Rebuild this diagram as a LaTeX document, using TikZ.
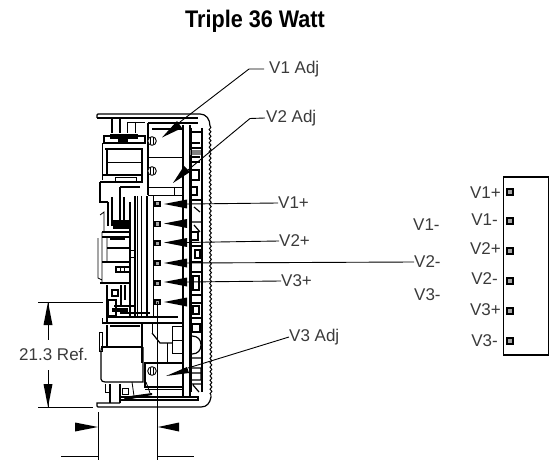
\documentclass[tikz,border=0pt]{standalone}
\usepackage{graphicx}
\usepackage{fontspec}
\setmainfont{Liberation Sans}
\usetikzlibrary{decorations.pathmorphing}
\definecolor{ink}{HTML}{3A3A3A}
\tikzset{
  thin line/.style={line width=0.8pt,black},
  med line/.style={line width=1.2pt,black},
  heavy line/.style={line width=2pt,black},
  leader/.style={line width=0.9pt,black},
  lab/.style={font=\fontsize{17}{18}\selectfont,text=ink,inner sep=0pt,anchor=west},
  conlab/.style={font=\fontsize{17}{18}\selectfont,text=ink,inner sep=0pt,anchor=east},
  term/.style={draw=black,line width=1.6pt,fill=gray!70,minimum size=4.6pt,inner sep=0pt},
  bigterm/.style={draw=black,line width=2.4pt,fill=gray!70,minimum size=6.4pt,inner sep=0pt},
  wedge/.style={fill=black,draw=none},
  screw/.style={draw=black,line width=0.9pt,fill=white}
}
\begin{document}
\begin{tikzpicture}[x=1pt,y=-1pt]
\useasboundingbox (0,0) rectangle (556,462);
\node[inner sep=0pt,font=\fontsize{24}{25}\bfseries\selectfont] (title) at (255,21) {\scalebox{.90}[1]{Triple 36 Watt}};

% housing
\draw[med line] (97,118) -- (97,115) -- (98,114) -- (200,114) .. controls (206,114) and (210,119) .. (210,126);
\draw[med line] (97,118) -- (198,118);
\draw[line width=1pt,decorate,decoration={snake,segment length=4.4pt,amplitude=0.9pt}] (210,126) -- (211,397);
\draw[med line] (211,397) .. controls (210,403) and (207,407) .. (201,407) -- (98,407) -- (97,406) -- (97,403) -- (120,403);
\draw[med line] (120,397) -- (198,397) -- (198,400) -- (120,400);

% central bar
\draw[med line] (183,125) -- (183,397) (190,125) -- (190,397);
\draw[med line] (148,123) -- (198,123);
\draw[heavy line] (152,129.5) -- (182,129.5);
% top adjust box
\draw[med line] (148,123) -- (148,195) ;
\draw[thin line] (148,157) -- (183,157) (148,187) -- (183,187) (148,195) -- (183,195);
\draw[thin line] (174,187) -- (174,195);
% top-left
\draw[med line] (112,133) -- (112,119) (120,119) -- (120,133) ;
\draw[thin line] (127,122) -- (127,133) (135,122) -- (135,133) (127,122) -- (145,122);
\draw[heavy line] (104,136) rectangle (145,143);
\fill[black] (110,134) rectangle (138,139);
\fill[black] (118,139) rectangle (128,143);
\draw[med line] (105,149) -- (143,149);
\draw[heavy line] (112,149) -- (136,149);
\draw[med line] (107,149) -- (107,175) (142,149) -- (142,182);
\draw[thin line] (107,162) -- (142,162) (102,143) -- (102,180);
\draw[med line] (102,175) -- (142,175) (100,182) -- (143,182) (100,182) -- (100,202) -- (108,202);
\draw[thin line] (115,177) rectangle (136,182);
\draw[med line] (120,187) -- (140,187) (120,187) -- (120,202);
% upper middle-left block
\draw[med line] (108,202) -- (108,226) (112,197) -- (112,226) (120,197) -- (120,222) (124,197) -- (124,226);
\draw[thin line] (100,215) -- (104,212) -- (104,232) (130,203) -- (130,232);
\fill[black] (113,220) rectangle (130,229);
\draw[med line] (102,232) -- (130,232) (102,237) -- (130,237);
\draw[heavy line] (110,239) -- (125,239);
\draw[thin line] (98,238) -- (98,278) -- (102,280) (102,232) -- (102,283) (107,237) -- (107,262);
\draw[med line] (107,248) -- (130,248) (102,262) -- (130,262) (100,283) -- (130,283);
\draw[med line] (116,267) rectangle (130,272);
\draw[thin line] (120,267)--(120,272) (124,267)--(124,272);
% lower middle-left
\draw[med line] (107,285) -- (107,322) (121,285) -- (121,307) (125,285) -- (125,300) (135,285) -- (135,300);
\draw[med line] (112,290) rectangle (118,296) (108,300) rectangle (116,316);
\draw[heavy line] (114,306) -- (134,306) (108,317) -- (178,317) (120,313) -- (150,313);
\fill[black] (112,308) rectangle (128,312);
% rails
\draw[med line] (130,202) -- (130,318) (135,196) -- (135,318);
\draw[thin line] (137,196) -- (137,318);
\draw[med line] (141.5,196) -- (141.5,318) (147,196) -- (147,318);
\draw[thin line] (153,196) -- (153,318);
\draw[thin line] (130,250) rectangle (135.5,257);
% lower band
\draw[med line] (102,323) -- (183,323);
\draw[thin line] (102,318) -- (102,323);
% lower boxes
\draw[med line] (107,325) -- (107,347) (142,323) -- (142,363);
\draw[heavy line] (110,326) -- (140,326);
\draw[med line] (101,347) -- (143,347);
\draw[med line] (104,347) .. controls (101,347) and (101,349) .. (101,351) -- (101,379) .. controls (101,381) and (103,382) .. (105,382) -- (143,382) -- (143,347);
\draw[thin line] (99,332) rectangle (102,351);
\draw[med line] (152,333) -- (160,343) -- (172,343);
\draw[thin line] (152,323) -- (152,333);
\draw[thin line] (172,326) -- (172,353) (182,326) -- (172,326) (172,340) -- (182,340) (172,353) -- (182,353);
\draw[thin line] (167,343) -- (167,363);
\draw[med line] (145,363) rectangle (183,387);
\draw[thin line] (145,389) -- (183,389);
% feet
\draw[med line] (110,384) -- (110,403) (120,384) -- (120,403);
\draw[thin line] (105,384) -- (105,392) -- (110,392) (122,388) rectangle (128,394);
\draw[thin line] (132,382) -- (134,396) (146,382) -- (150,393);
\fill[black] (123,397) -- (152,393) -- (152,395) -- (126,400) -- cycle;
% right component column
\draw[heavy line] (202,128) -- (202,392);
\draw[med line] (190,132) -- (202,132) (190,143) -- (200,143) (190,148) -- (202,148) (191,157) -- (200,157) (191,162) -- (200,162);
\fill[gray] (190,150) rectangle (201,155);
\draw[med line] (191,170) rectangle (199,180);
\draw[med line] (191,187) rectangle (197,195);
\draw[heavy line] (191,200) -- (202,200);
\draw[med line] (194,207) -- (200,212) (191,222) -- (202,222) (194,225) -- (200,232);
\draw[med line] (191,232) rectangle (198,240);
\draw[med line] (191,246) -- (202,246) (195,250) rectangle (200,258);
\draw[med line] (191,262) -- (202,262) (191,272) -- (202,272);
\draw[med line] (193,276) rectangle (199,290);
\draw[med line] (191,295) -- (202,295) (191,303) -- (202,303) (193,306) rectangle (199,314) (191,318) -- (202,318);
\draw[med line] (192,324) rectangle (200,332);
\draw[med line] (192,336) .. controls (198,336) and (201,340) .. (201,345) .. controls (201,350) and (198,354) .. (192,354);
\draw[med line] (191,358) -- (202,358) (191,368) rectangle (201,380) (191,373) -- (201,373) (191,384) -- (201,384) (193,385) -- (199,392);
\draw[thin line] (191,128) -- (191,392);
% screws
\foreach \n/\sy in {sa/141,sb/171,sc/371}{
  \filldraw[screw] (152,\sy) circle (4.3pt);
  \draw[line width=1pt] (150.3,\sy-3.5) -- (150.3,\sy+3.5) (153,\sy-3.5) -- (153,\sy+3.5);
}

% left terminals
\node[term] (t1) at (157.5,204) {};
\node[term] (t2) at (157.5,224) {};
\node[term] (t3) at (157.5,243) {};
\node[term] (t4) at (157.5,263) {};
\node[term] (t5) at (157.5,283) {};
\node[term] (t6) at (157.5,302) {};

% labels
\node[lab] (v1adj) at (269,69) {V1 Adj};
\node[lab] (v2adj) at (266,118) {V2 Adj};
\node[lab] (v1p) at (278,203) {V1+};
\node[lab] (v2p) at (279,241) {V2+};
\node[lab] (v3p) at (281,281) {V3+};
\node[lab] (v3adj) at (289,337) {V3 Adj};
\node[lab] (v1m) at (413,225) {V1-};
\node[lab] (v2m) at (414,262) {V2-};
\node[lab] (v3m) at (414,295) {V3-};

% wedges
\foreach \n/\yy in {w1/204,w2/223.5,w3/242.5,w4/263,w5/282,w6/302}{
  \coordinate (\n) at (187,\yy);
  \fill[wedge] (164,\yy) -- (187,\yy-4.5) -- (187,\yy+4.5) -- cycle;
}
\coordinate (wa) at (180,122);
\fill[wedge] (162,137.5) -- (177,121) -- (182,128) -- cycle;
\coordinate (wb) at (188,170);
\fill[wedge] (173,183) -- (184,166) -- (190,172) -- cycle;
\coordinate (wc) at (188,368);
\fill[wedge] (166,376) -- (187,367) -- (189,373) -- cycle;

% leaders
\coordinate (ka) at (249,69);
\coordinate (kb) at (250,118.5);
\draw[leader] (v1adj.west) ++(-5,0) -- (ka) -- (wa);
\draw[leader] (v2adj.west) ++(-1,0) -- (kb) -- (wb);
\draw[leader] (w1) -- (v1p.west);
\draw[leader] (w3) -- (v2p.west);
\draw[leader] (w4) -- (v2m.west);
\draw[leader] (w5) -- (v3p.west);
\draw[leader] (wc) -- (v3adj.west);

% dimension 21.3
\coordinate (da) at (38,302);
\coordinate (db) at (103,302);
\coordinate (dc) at (38,407);
\coordinate (dd) at (93,407);
\draw[leader] (da) -- (db);
\draw[leader] (dc) -- (dd);
\node[inner sep=0pt,font=\fontsize{17}{18}\selectfont,text=ink,anchor=west] (dim) at (19,354) {21.3 Ref.};
\coordinate (dt) at (48,302);
\coordinate (dl) at (48,407);
\draw[leader] (dt) -- (48,340);
\draw[leader] (48,370) -- (dl);
\fill[wedge] (dt) -- (43.5,325) -- (52.5,325) -- cycle;
\fill[wedge] (dl) -- (43.5,384) -- (52.5,384) -- cycle;

% dimension width
\coordinate (ea) at (98,412);
\coordinate (eb) at (98,460);
\coordinate (ec) at (157.5,302);
\coordinate (ed) at (157.5,460);
\draw[leader] (ea) -- (eb);
\draw[leader] (ec) -- (ed);
\draw[leader] (61,456) -- (98,456);
\draw[leader] (157.5,456) -- (194,456);
\fill[wedge] (98,427) -- (75,422.5) -- (75,431.5) -- cycle;
\fill[wedge] (158,427) -- (179,422.5) -- (179,431.5) -- cycle;

% connector
\node[draw=black,line width=1.2pt,minimum width=45.5pt,minimum height=178pt,inner sep=0pt] (conn) at (526,266) {};
\foreach \n/\yy in {c1/192,c2/221,c3/251,c4/281,c5/311,c6/341}{
  \node[bigterm] (\n) at (510,\yy) {};
}
\node[conlab] (l1) at (501,193) {V1+};
\node[conlab] (l2) at (498,220) {V1-};
\node[conlab] (l3) at (501,249) {V2+};
\node[conlab] (l4) at (498,279) {V2-};
\node[conlab] (l5) at (501,310) {V3+};
\node[conlab] (l6) at (498,341) {V3-};
\end{tikzpicture}
\end{document}
